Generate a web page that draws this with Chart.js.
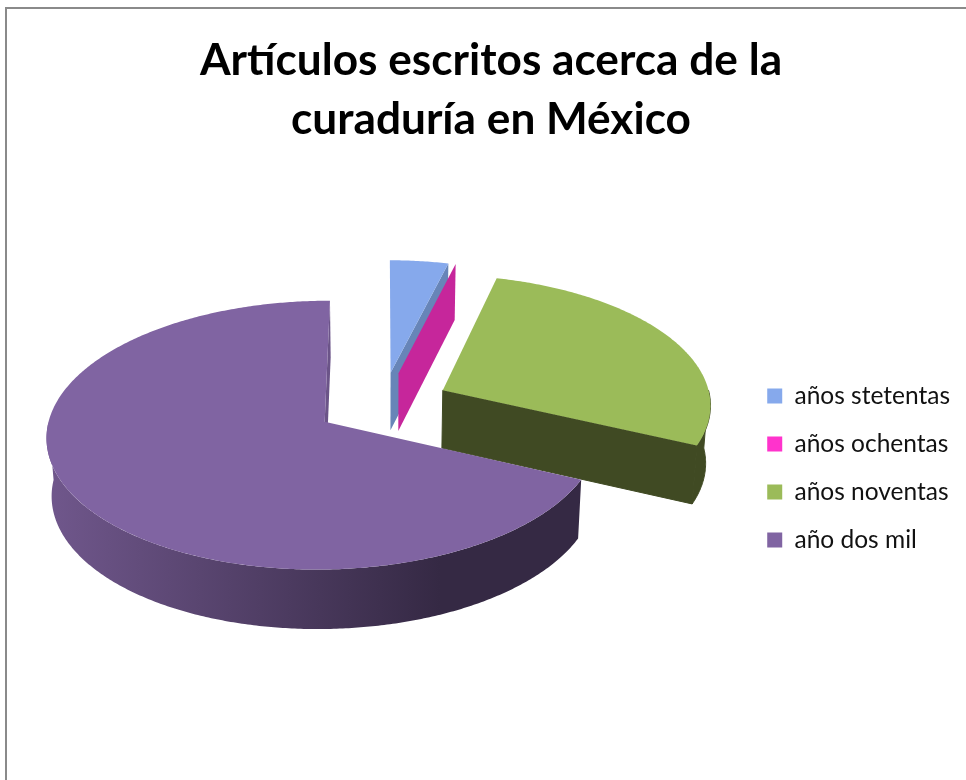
<!DOCTYPE html>
<html lang="es">
<head>
<meta charset="utf-8">
<title>Artículos escritos acerca de la curaduría en México</title>
<script src="https://cdn.jsdelivr.net/npm/chart.js@4"></script>
<style>
    html, body { margin: 0; padding: 0; background: #fff; overflow: hidden; }
    #frame {
        position: absolute; left: 5px; top: 7px; right: 0; bottom: 0;
        border-left: 2px solid #8a8a8a; border-top: 2px solid #8a8a8a;
    }
    #chart { position: absolute; left: 0; top: 0; }
</style>
</head>
<body>
<div id="frame"></div>
<canvas id="chart" width="966" height="780"></canvas>
<script>
const categories = ['años stetentas', 'años ochentas', 'años noventas', 'año dos mil'];
const articleShares = [3.9, 0, 28, 68.1];

const topColors = ['#86a9ec', '#ff33cc', '#9bbb59', '#8064a2'];
const wallColors = ['#6785b8', '#c6269b', '#404a23', '#6b5488'];

// view of the tilted disc: radius 1 in disc units, v pointing to the back
const view = { cx: 382.5, cy: 404, fx: 270.5, fy: 129.4, perspV: 0.0989, perspU: 0.005, depth: 58, depthPersp: 0.06, shrink: 0.015 };
const explode = 0.25;

function project(u, v, z) {
    let w = 1 + view.perspV * v + view.perspU * u + view.shrink * z;
    return {
        x: view.cx + view.fx * u / w,
        y: view.cy - view.fy * v / w + view.depth * z / (1 + view.depthPersp * v)
    };
}

function tracePoints(ctx, pts) {
    ctx.beginPath();
    pts.forEach(function (p, i) {
        if (i === 0) ctx.moveTo(p.x, p.y); else ctx.lineTo(p.x, p.y);
    });
    ctx.closePath();
}

const tiltedPie = {
    id: 'tiltedPie',
    beforeInit: function (chart) {
        // spacing and no kerning keep "tí" in the title from closing up
        chart.ctx.letterSpacing = '0.12px';
        chart.ctx.fontKerning = 'none';
    },
    beforeDatasetsDraw: function (chart) {
        const ctx = chart.ctx;
        const arcs = chart.getDatasetMeta(0).data;

        let purpleWall = ctx.createLinearGradient(48, 0, 440, 0);
        purpleWall.addColorStop(0, '#70578c');
        purpleWall.addColorStop(1, '#352944');

        ctx.save();
        ctx.lineWidth = 1;
        ctx.lineJoin = 'round';
        arcs.forEach(function (arc, i) {
            // chart.js measures from 3 o'clock, the disc from 12 o'clock
            const start = arc.startAngle + Math.PI / 2;
            const end = arc.endAngle + Math.PI / 2;
            const mid = (start + end) / 2;
            const ou = Math.sin(mid) * explode;
            const ov = Math.cos(mid) * explode;

            const rim = function (z, from, to) {
                let pts = [];
                const steps = Math.max(2, Math.ceil(Math.abs(to - from) / 0.01));
                for (let s = 0; s <= steps; s++) {
                    const t = from + (to - from) * s / steps;
                    pts.push(project(ou + Math.sin(t), ov + Math.cos(t), z));
                }
                return pts;
            };

            // cut face at the clockwise end of the slice
            ctx.fillStyle = ctx.strokeStyle = wallColors[i];
            tracePoints(ctx, [
                project(ou, ov, 0),
                project(ou + Math.sin(end), ov + Math.cos(end), 0),
                project(ou + Math.sin(end), ov + Math.cos(end), 1),
                project(ou, ov, 1)
            ]);
            ctx.fill();
            if (i === 2) ctx.stroke();

            // outer wall, front half of the disc only
            const wallFrom = Math.max(start, Math.PI / 2);
            const wallTo = Math.min(end, Math.PI * 3 / 2);
            if (wallTo > wallFrom) {
                if (i === 3) ctx.fillStyle = ctx.strokeStyle = purpleWall;
                tracePoints(ctx, rim(0, wallFrom, wallTo).concat(rim(1, wallTo, wallFrom)));
                ctx.fill();
                if (i === 2) ctx.stroke();
            }

            // top face
            tracePoints(ctx, [project(ou, ov, 0)].concat(rim(0, start, end)));
            ctx.fillStyle = topColors[i];
            ctx.fill();
        });
        ctx.restore();
        return false;
    }
};

new Chart(document.getElementById('chart'), {
    type: 'pie',
    data: {
        labels: categories,
        datasets: [{
            data: articleShares,
            backgroundColor: topColors,
            borderWidth: 0
        }]
    },
    options: {
        responsive: false,
        animation: false,
        events: [],
        layout: { padding: { left: 22, top: 21, right: 6, bottom: 0 } },
        plugins: {
            title: {
                display: true,
                text: ['Artículos escritos acerca de la', 'curaduría en México'],
                color: '#000',
                font: { family: 'Lato', size: 44.2, weight: 'bold', lineHeight: 1.335 },
                padding: { top: 10, bottom: 7 }
            },
            legend: {
                position: 'right',
                fullSize: false,
                labels: {
                    color: '#111',
                    font: { family: 'Lato', size: 24.5 },
                    boxWidth: 15,
                    boxHeight: 15,
                    padding: 23.5
                }
            },
            tooltip: { enabled: false }
        }
    },
    plugins: [tiltedPie]
});
</script>
</body>
</html>
